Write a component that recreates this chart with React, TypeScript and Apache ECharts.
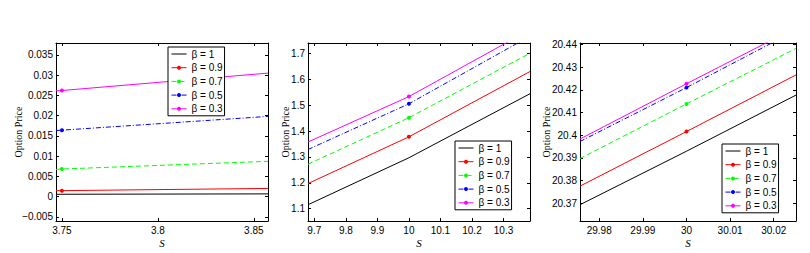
import React, { useEffect, useRef } from 'react';
import * as echarts from 'echarts';

// ---------- data ----------
const seriesNames = ['β = 1', 'β = 0.9', 'β = 0.7', 'β = 0.5', 'β = 0.3'];
const seriesColors = ['#000000', '#ff0000', '#00ff00', '#0000ff', '#ff00ff'];

// Panel 1 (S near 3.75)
const p1S = [3.7469, 3.75, 3.8574];
const p1Beta1 = [0.00055, 0.00056, 0.00065];
const p1Beta09 = [0.00144, 0.00145, 0.002];
const p1Beta07 = [0.0067, 0.0068, 0.0087];
const p1Beta05 = [0.0163, 0.0164, 0.0198];
const p1Beta03 = [0.0261, 0.0262, 0.0305];
const p1XTicks = [3.75, 3.8, 3.85];
const p1YTicks = [-0.005, 0, 0.005, 0.01, 0.015, 0.02, 0.025, 0.03, 0.035];
const p1XRange = [3.7469, 3.8574];
const p1YRange = [-0.00605, 0.03794];

// Panel 2 (S near 10)
const p2S = [9.68, 10, 10.384];
const p2Beta1 = [1.115, 1.297, 1.545];
const p2Beta09 = [1.197, 1.378, 1.631];
const p2Beta07 = [1.272, 1.452, 1.702];
const p2Beta05 = [1.329, 1.506, 1.768];
const p2Beta03 = [1.358, 1.534, 1.793];
const p2XTicks = [9.7, 9.8, 9.9, 10, 10.1, 10.2, 10.3];
const p2YTicks = [1.1, 1.2, 1.3, 1.4, 1.5, 1.6, 1.7];
const p2XRange = [9.68, 10.384];
const p2YRange = [1.052, 1.7415];

// Panel 3 (S near 30)
const p3S = [29.9756, 30, 30.0251];
const p3Beta1 = [20.3693, 20.3929, 20.4177];
const p3Beta09 = [20.3775, 20.4016, 20.4266];
const p3Beta07 = [20.3897, 20.4138, 20.4383];
const p3Beta05 = [20.3972, 20.421, 20.4463];
const p3Beta03 = [20.3983, 20.4227, 20.4475];
const p3XTicks = [29.98, 29.99, 30, 30.01, 30.02];
const p3YTicks = [20.37, 20.38, 20.39, 20.4, 20.41, 20.42, 20.43, 20.44];
const p3XRange = [29.9756, 30.0251];
const p3YRange = [20.3621, 20.4407];

const markerIndex = 1;
const xAxisTitle = 'S';
const yAxisTitle = 'Option Price';

// ---------- styling / layout ----------
const SANS = "'Liberation Sans', Arial, Helvetica, sans-serif";
const SERIF = "'Liberation Serif', 'Times New Roman', Times, serif";
const lineTypes: any[] = ['solid', 'solid', [5, 3], [5, 2, 1, 2], 'solid'];
const hasMarker = [false, true, true, true, true];

const panels = [
  {
    xs: p1S, ys: [p1Beta1, p1Beta09, p1Beta07, p1Beta05, p1Beta03],
    xTicks: p1XTicks, yTicks: p1YTicks, xRange: p1XRange, yRange: p1YRange,
    grid: { left: 56, top: 43, width: 212, height: 182 },
    legend: { left: 168, top: 47 }, yNameGap: 33,
  },
  {
    xs: p2S, ys: [p2Beta1, p2Beta09, p2Beta07, p2Beta05, p2Beta03],
    xTicks: p2XTicks, yTicks: p2YTicks, xRange: p2XRange, yRange: p2YRange,
    grid: { left: 308, top: 43, width: 222, height: 182 },
    legend: { left: 455, top: 141 }, yNameGap: 18,
  },
  {
    xs: p3S, ys: [p3Beta1, p3Beta09, p3Beta07, p3Beta05, p3Beta03],
    xTicks: p3XTicks, yTicks: p3YTicks, xRange: p3XRange, yRange: p3YRange,
    grid: { left: 580, top: 43, width: 216, height: 182 },
    legend: { left: 722, top: 144 }, yNameGap: 29,
  },
];

const fmt = (v: number) => String(parseFloat(Number(v).toFixed(6))).replace('-', '\u2212');

function buildOption() {
  const grid: any[] = [];
  const xAxis: any[] = [];
  const yAxis: any[] = [];
  const series: any[] = [];
  const legend: any[] = [];

  panels.forEach((p, gi) => {
    grid.push({ ...p.grid, show: false, containLabel: false });
    const common = {
      gridIndex: gi,
      type: 'value',
      splitLine: { show: false },
      axisLine: { show: true, onZero: false, lineStyle: { color: '#000', width: 1 } },
    };
    // bottom x
    xAxis.push({
      ...common,
      position: 'bottom',
      min: p.xRange[0], max: p.xRange[1],
      axisTick: { show: true, inside: true, length: 3, customValues: p.xTicks, lineStyle: { color: '#000' } },
      axisLabel: { show: true, customValues: p.xTicks, formatter: fmt, color: '#000', fontFamily: SANS, fontSize: 10, margin: 4 },
      name: xAxisTitle, nameLocation: 'middle', nameGap: 16, nameMoveOverlap: false,
      nameTextStyle: { fontFamily: SERIF, fontStyle: 'italic', fontSize: 11, color: '#000' },
    });
    // top x
    xAxis.push({
      ...common,
      position: 'top',
      min: p.xRange[0], max: p.xRange[1],
      axisTick: { show: true, inside: true, length: 3, customValues: p.xTicks, lineStyle: { color: '#000' } },
      axisLabel: { show: false },
    });
    // left y
    yAxis.push({
      ...common,
      position: 'left',
      min: p.yRange[0], max: p.yRange[1],
      axisTick: { show: true, inside: true, length: 3, customValues: p.yTicks, lineStyle: { color: '#000' } },
      axisLabel: { show: true, customValues: p.yTicks, formatter: fmt, color: '#000', fontFamily: SANS, fontSize: 10, margin: 3 },
      name: yAxisTitle, nameLocation: 'middle', nameGap: p.yNameGap, nameMoveOverlap: false,
      nameTextStyle: { fontFamily: SERIF, fontSize: 10, color: '#000' },
    });
    // right y
    yAxis.push({
      ...common,
      position: 'right',
      min: p.yRange[0], max: p.yRange[1],
      axisTick: { show: true, inside: true, length: 3, customValues: p.yTicks, lineStyle: { color: '#000' } },
      axisLabel: { show: false },
    });

    p.ys.forEach((vals, si) => {
      series.push({
        type: 'line',
        name: seriesNames[si],
        xAxisIndex: gi * 2,
        yAxisIndex: gi * 2,
        clip: true,
        symbol: hasMarker[si] ? 'circle' : 'none',
        symbolSize: 4,
        showSymbol: true,
        color: seriesColors[si],
        itemStyle: { color: seriesColors[si] },
        lineStyle: { color: seriesColors[si], width: 1, type: lineTypes[si] },
        emphasis: { disabled: true },
        silent: true,
        data: p.xs.map((x, i) => (
          hasMarker[si] && i === markerIndex
            ? { value: [x, vals[i]] }
            : { value: [x, vals[i]], symbol: 'none' }
        )),
      });
    });

    legend.push({
      left: p.legend.left,
      top: p.legend.top,
      orient: 'vertical',
      selectedMode: false,
      backgroundColor: '#fff',
      borderColor: '#000',
      borderWidth: 1,
      borderRadius: 0,
      padding: [1, 2, 1, 3],
      itemWidth: 15,
      itemHeight: 5,
      itemGap: 1.7,
      lineStyle: { width: 1 },
      textStyle: { fontFamily: SANS, fontSize: 10, color: '#000', lineHeight: 12 },
      data: seriesNames.map((n, i) => (
        hasMarker[i]
          ? { name: n, lineStyle: { width: 1, type: lineTypes[i], color: seriesColors[i] } }
          : {
              name: n,
              lineStyle: { width: 1, type: lineTypes[i], color: seriesColors[i] },
              itemStyle: { color: 'rgba(0,0,0,0)', borderWidth: 0, opacity: 0 },
            }
      )),
    });
  });

  return { animation: false, grid, xAxis, yAxis, series, legend };
}

export default function App() {
  const ref = useRef<HTMLDivElement>(null);
  useEffect(() => {
    const chart = echarts.init(ref.current!, null, { renderer: 'svg' });
    chart.setOption(buildOption() as any);
    return () => chart.dispose();
  }, []);
  return (
    <div
      ref={ref}
      style={{ position: 'absolute', left: 0, top: 0, width: 810, height: 253, background: '#fff' }}
    />
  );
}
